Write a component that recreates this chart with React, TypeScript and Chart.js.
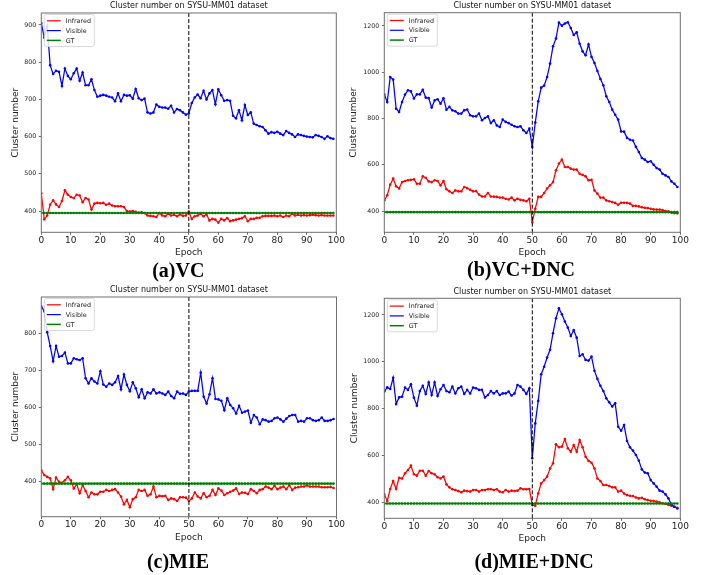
import React, { useEffect, useRef } from "react";
import { Chart, registerables } from "chart.js";

Chart.register(...registerables);

// ---------------- data ----------------
const epochs: number[] = [
  0, 1, 2, 3, 4, 5, 6, 7, 8, 9, 10, 11, 12, 13, 14, 15, 16, 17, 18, 19,
  20, 21, 22, 23, 24, 25, 26, 27, 28, 29, 30, 31, 32, 33, 34, 35, 36, 37, 38, 39,
  40, 41, 42, 43, 44, 45, 46, 47, 48, 49, 50, 51, 52, 53, 54, 55, 56, 57, 58, 59,
  60, 61, 62, 63, 64, 65, 66, 67, 68, 69, 70, 71, 72, 73, 74, 75, 76, 77, 78, 79,
  80, 81, 82, 83, 84, 85, 86, 87, 88, 89, 90, 91, 92, 93, 94, 95, 96, 97, 98, 99,
];
const gtValue = 395;
const dividerEpoch = 50;
const legendLabels = ["Infrared", "Visible", "GT"];
const plotTitle = "Cluster number on SYSU-MM01 dataset";
const xTicks = [0, 10, 20, 30, 40, 50, 60, 70, 80, 90, 100];
const aYTicks = [400, 500, 600, 700, 800, 900];
const bYTicks = [400, 600, 800, 1000, 1200];
const cYTicks = [400, 500, 600, 700, 800];
const dYTicks = [400, 600, 800, 1000, 1200];

const aVisible = [
  905, 866, 898, 792, 768, 777, 774, 736, 783, 763,
  754, 770, 783, 750, 772, 738, 738, 754, 725, 707,
  710, 712, 710, 707, 705, 695, 716, 695, 712, 710,
  711, 702, 728, 703, 698, 702, 665, 662, 665, 686,
  680, 678, 678, 675, 683, 665, 674, 671, 665, 659,
  662, 690, 705, 713, 703, 723, 700, 716, 725, 687,
  727, 711, 696, 698, 696, 656, 649, 671, 644, 685,
  658, 665, 635, 631, 628, 626, 617, 608, 612, 610,
  613, 608, 604, 615, 610, 606, 599, 606, 604, 602,
  600, 599, 598, 604, 602, 599, 594, 601, 596, 594,
];
const aInfrared = [
  448, 378, 388, 417, 429, 418, 411, 427, 456, 444,
  438, 435, 444, 442, 424, 435, 431, 404, 420, 422,
  421, 422, 417, 420, 415, 413, 413, 413, 411, 400,
  399, 400, 398, 396, 397, 395, 388, 387, 386, 384,
  395, 388, 386, 393, 388, 390, 386, 391, 387, 388,
  399, 379, 386, 388, 393, 386, 391, 375, 379, 377,
  369, 379, 375, 381, 373, 375, 377, 379, 381, 386,
  373, 379, 379, 382, 382, 386, 387, 387, 387, 388,
  386, 388, 384, 388, 386, 393, 388, 390, 388, 389,
  388, 389, 390, 389, 388, 389, 388, 388, 388, 388,
];
const bVisible = [
  904, 871, 979, 968, 842, 828, 871, 903, 922, 917,
  886, 904, 904, 924, 890, 888, 847, 878, 883, 864,
  887, 838, 850, 835, 831, 821, 821, 835, 839, 814,
  809, 809, 821, 792, 802, 809, 780, 792, 770, 763,
  795, 785, 780, 773, 766, 763, 766, 749, 737, 756,
  677, 782, 874, 933, 942, 979, 1037, 1112, 1145, 1214,
  1201, 1210, 1216, 1191, 1161, 1172, 1123, 1090, 1073, 1120,
  1066, 1040, 1005, 971, 943, 896, 871, 838, 816, 795,
  744, 743, 716, 708, 705, 677, 655, 629, 622, 612,
  615, 600, 586, 579, 561, 554, 547, 528, 518, 504,
];
const bInfrared = [
  446, 468, 514, 540, 507, 497, 525, 530, 533, 535,
  537, 518, 518, 550, 544, 528, 525, 533, 530, 511,
  530, 494, 485, 478, 489, 485, 485, 504, 499, 492,
  485, 486, 471, 463, 463, 478, 463, 462, 461, 458,
  458, 453, 450, 458, 446, 453, 448, 446, 442, 453,
  352, 410, 461, 461, 478, 497, 511, 525, 576, 605,
  622, 590, 590, 583, 579, 579, 561, 556, 550, 533,
  535, 489, 475, 458, 458, 446, 442, 439, 435, 427,
  436, 436, 435, 432, 422, 422, 420, 416, 414, 413,
  410, 407, 406, 406, 404, 400, 399, 393, 391, 390,
];
const cVisible = [
  872, 860, 803, 766, 725, 766, 737, 739, 748, 719,
  719, 733, 730, 728, 733, 679, 665, 679, 670, 665,
  698, 662, 656, 665, 661, 668, 685, 649, 689, 661,
  644, 668, 652, 628, 649, 625, 641, 638, 649, 638,
  641, 638, 634, 643, 631, 625, 643, 637, 638, 634,
  643, 645, 645, 645, 694, 629, 611, 636, 679, 623,
  622, 618, 593, 625, 607, 598, 584, 605, 586, 589,
  592, 559, 580, 573, 555, 568, 566, 562, 564, 571,
  573, 568, 562, 570, 577, 580, 580, 562, 564, 562,
  571, 571, 566, 564, 566, 573, 564, 564, 566, 569,
];
const cInfrared = [
  431, 418, 413, 409, 380, 411, 400, 397, 404, 413,
  404, 382, 393, 369, 391, 375, 358, 371, 366, 366,
  373, 373, 378, 375, 378, 380, 371, 360, 339, 351,
  331, 353, 358, 378, 375, 378, 362, 366, 387, 358,
  362, 361, 362, 351, 355, 353, 348, 358, 358, 357,
  348, 355, 371, 360, 355, 369, 358, 362, 378, 364,
  382, 376, 364, 369, 373, 376, 382, 367, 371, 370,
  367, 380, 375, 369, 378, 380, 387, 384, 380, 389,
  380, 384, 387, 380, 391, 378, 384, 385, 387, 387,
  390, 387, 387, 387, 387, 385, 385, 385, 386, 383,
];
const dVisible = [
  873, 891, 884, 932, 820, 848, 851, 890, 880, 904,
  847, 813, 875, 898, 863, 912, 858, 912, 854, 883,
  901, 875, 870, 894, 865, 887, 894, 863, 880, 865,
  890, 887, 880, 880, 848, 858, 875, 865, 875, 858,
  865, 865, 873, 856, 865, 901, 894, 880, 863, 887,
  588, 737, 833, 947, 979, 1018, 1051, 1122, 1186, 1228,
  1203, 1172, 1146, 1110, 1135, 1103, 1025, 1032, 1008, 1005,
  1022, 962, 927, 898, 875, 844, 827, 809, 823, 723,
  706, 730, 662, 635, 621, 602, 578, 541, 527, 524,
  495, 481, 467, 450, 446, 434, 417, 391, 381, 374,
];
const dInfrared = [
  434, 406, 457, 491, 457, 505, 502, 524, 538, 557,
  520, 514, 535, 535, 514, 534, 524, 520, 507, 502,
  510, 477, 464, 456, 453, 448, 443, 450, 448, 446,
  453, 453, 446, 453, 453, 456, 456, 453, 456, 446,
  443, 453, 446, 450, 448, 450, 460, 456, 456, 457,
  389, 386, 438, 481, 495, 510, 545, 567, 648, 635,
  638, 670, 631, 616, 645, 616, 666, 635, 595, 577,
  569, 545, 502, 491, 474, 474, 470, 464, 464, 446,
  450, 438, 431, 428, 427, 421, 417, 420, 413, 410,
  407, 406, 403, 400, 396, 393, 389, 386, 381, 377,
];

// ---------------- styles / layout ----------------
const SANS = "'DejaVu Sans', sans-serif";
const SERIF = "'Liberation Serif', 'Times New Roman', serif";
const RED = "#ff0000";
const BLUE = "#0000ff";
const GREEN = "#008000";

type PanelCfg = {
  left: number;
  top: number;
  width: number;
  height: number;
  plot: { l: number; t: number; r: number; b: number };
  yMin: number;
  yMax: number;
  yTicks: number[];
  infrared: number[];
  visible: number[];
  caption: string;
  captionX: number;
  captionY: number;
  titleY: number;
  yTitlePad: number;
  xTitlePad: number;
};

const panels: PanelCfg[] = [
  {
    left: 0, top: 0, width: 356, height: 285,
    plot: { l: 41.3, t: 13, r: 336.3, b: 232.3 },
    yMin: 343, yMax: 932, yTicks: aYTicks,
    infrared: aInfrared, visible: aVisible,
    caption: "(a)VC", captionX: 178.3, captionY: 271.5, titleY: 6,
    yTitlePad: 10.6, xTitlePad: 27.3,
  },
  {
    left: 340, top: 0, width: 372, height: 285,
    plot: { l: 44.3, t: 12.7, r: 340.3, b: 232.3 },
    yMin: 308, yMax: 1257, yTicks: bYTicks,
    infrared: bInfrared, visible: bVisible,
    caption: "(b)VC+DNC", captionX: 181, captionY: 270.5, titleY: 6,
    yTitlePad: 8.6, xTitlePad: 27.3,
  },
  {
    left: 0, top: 285, width: 356, height: 290,
    plot: { l: 41.3, t: 12, r: 336.5, b: 231.7 },
    yMin: 305.7, yMax: 898, yTicks: cYTicks,
    infrared: cInfrared, visible: cVisible,
    caption: "(c)MIE", captionX: 178, captionY: 278.3, titleY: 5,
    yTitlePad: 10.6, xTitlePad: 32.3,
  },
  {
    left: 340, top: 285, width: 372, height: 290,
    plot: { l: 44.3, t: 13.3, r: 340.3, b: 233.3 },
    yMin: 332, yMax: 1271, yTicks: dYTicks,
    infrared: dInfrared, visible: dVisible,
    caption: "(d)MIE+DNC", captionX: 194, captionY: 278.3, titleY: 6.7,
    yTitlePad: 9.6, xTitlePad: 30.6,
  },
];

function Panel({ cfg }: { cfg: PanelCfg }) {
  const ref = useRef<HTMLCanvasElement>(null);

  useEffect(() => {
    if (!ref.current) return;
    const p = cfg.plot;
    const pts = (arr: number[]) => arr.map((v, i) => ({ x: epochs[i], y: v }));
    const gt = epochs.map((e) => ({ x: e, y: gtValue }));

    const overlay = {
      id: "overlay",
      afterDatasetsDraw(chart: any) {
        const { ctx, chartArea: a, scales } = chart;
        const x = scales.x.getPixelForValue(dividerEpoch);
        ctx.save();
        ctx.strokeStyle = "#000";
        ctx.lineWidth = 1;
        ctx.setLineDash([4, 2]);
        ctx.beginPath();
        ctx.moveTo(x, a.top);
        ctx.lineTo(x, a.bottom);
        ctx.stroke();
        ctx.restore();
      },
      afterDraw(chart: any) {
        const { ctx, chartArea: a } = chart;
        ctx.save();
        // frame
        ctx.strokeStyle = "#6e6e6e";
        ctx.lineWidth = 1;
        ctx.strokeRect(a.left, a.top, a.right - a.left, a.bottom - a.top);
        // title
        ctx.fillStyle = "#111";
        ctx.font = `8px ${SANS}`;
        ctx.textAlign = "center";
        ctx.textBaseline = "middle";
        ctx.fillText(plotTitle, (a.left + a.right) / 2, cfg.titleY);
        // caption
        ctx.fillStyle = "#000";
        ctx.font = `bold 20px ${SERIF}`;
        ctx.fillText(cfg.caption, cfg.captionX, cfg.captionY);
        // legend
        const bx = a.left + 3;
        const by = a.top + 1.5;
        const bw = 50;
        const bh = 32;
        ctx.beginPath();
        if ((ctx as any).roundRect) (ctx as any).roundRect(bx, by, bw, bh, 2);
        else ctx.rect(bx, by, bw, bh);
        ctx.fillStyle = "rgba(255,255,255,0.85)";
        ctx.fill();
        ctx.strokeStyle = "#d0d0d0";
        ctx.lineWidth = 0.8;
        ctx.stroke();
        const colors = [RED, BLUE, GREEN];
        ctx.font = `6.4px ${SANS}`;
        ctx.textAlign = "left";
        ctx.textBaseline = "middle";
        legendLabels.forEach((lab, i) => {
          const y = by + 6.3 + i * 9.8;
          ctx.strokeStyle = colors[i];
          ctx.lineWidth = i === 2 ? 1.5 : 1.2;
          ctx.beginPath();
          ctx.moveTo(bx + 2.5, y);
          ctx.lineTo(bx + 16.5, y);
          ctx.stroke();
          ctx.fillStyle = "#222";
          ctx.fillText(lab, bx + 21.5, y + 0.5);
        });
        ctx.restore();
      },
    };

    const lineDs = (label: string, data: any[], color: string, order: number, width: number) => ({
      label,
      data,
      borderColor: color,
      backgroundColor: color,
      pointBackgroundColor: color,
      pointBorderColor: color,
      borderWidth: width,
      pointRadius: 1.3,
      pointBorderWidth: 0,
      pointHoverRadius: 0,
      tension: 0,
      fill: false,
      order,
    });

    const chart = new Chart(ref.current, {
      type: "line",
      data: {
        datasets: [
          lineDs(legendLabels[0], pts(cfg.infrared), RED, 3, 1.25),
          lineDs(legendLabels[1], pts(cfg.visible), BLUE, 2, 1.25),
          lineDs(legendLabels[2], gt, GREEN, 1, 1.6),
        ] as any,
      },
      options: {
        responsive: false,
        animation: false,
        devicePixelRatio: 1,
        events: [],
        layout: { padding: { left: 0, top: p.t, right: cfg.width - p.r, bottom: 0 } },
        plugins: {
          legend: { display: false },
          tooltip: { enabled: false },
          title: { display: false },
        },
        scales: {
          x: {
            type: "linear",
            min: 0,
            max: 100,
            afterFit: (s: any) => {
              s.height = cfg.height - p.b;
            },
            afterBuildTicks: (s: any) => {
              s.ticks = xTicks.map((v) => ({ value: v }));
            },
            grid: {
              display: true,
              drawOnChartArea: false,
              drawTicks: true,
              tickLength: 2.5,
              color: "#444",
              lineWidth: 0.8,
            },
            border: { display: false },
            ticks: {
              font: { family: SANS, size: 9 },
              color: "#222",
              padding: 0.5,
              maxRotation: 0,
              autoSkip: false,
              callback: (v: any) => String(v),
            },
            title: {
              display: true,
              text: "Epoch",
              font: { family: SANS, size: 9 },
              color: "#222",
              padding: { top: 0, bottom: cfg.xTitlePad },
            },
          },
          y: {
            type: "linear",
            min: cfg.yMin,
            max: cfg.yMax,
            afterFit: (s: any) => {
              s.width = p.l;
            },
            afterBuildTicks: (s: any) => {
              s.ticks = cfg.yTicks.map((v) => ({ value: v }));
            },
            grid: {
              display: true,
              drawOnChartArea: false,
              drawTicks: true,
              tickLength: 2.5,
              color: "#444",
              lineWidth: 0.8,
            },
            border: { display: false },
            ticks: {
              font: { family: SANS, size: 6.3 },
              color: "#222",
              padding: 2.5,
              autoSkip: false,
              callback: (v: any) => String(v),
            },
            title: {
              display: true,
              text: "Cluster number",
              font: { family: SANS, size: 9 },
              color: "#222",
              padding: { top: cfg.yTitlePad, bottom: 0 },
            },
          },
        },
      } as any,
      plugins: [overlay],
    });

    return () => chart.destroy();
  }, [cfg]);

  return (
    <canvas
      ref={ref}
      width={cfg.width}
      height={cfg.height}
      style={{
        position: "absolute",
        left: cfg.left,
        top: cfg.top,
        width: cfg.width,
        height: cfg.height,
      }}
    />
  );
}

export default function App() {
  return (
    <div
      style={{
        position: "absolute",
        left: 0,
        top: 0,
        width: 712,
        height: 575,
        background: "#fff",
        overflow: "hidden",
      }}
    >
      {panels.map((cfg, i) => (
        <Panel key={i} cfg={cfg} />
      ))}
    </div>
  );
}
